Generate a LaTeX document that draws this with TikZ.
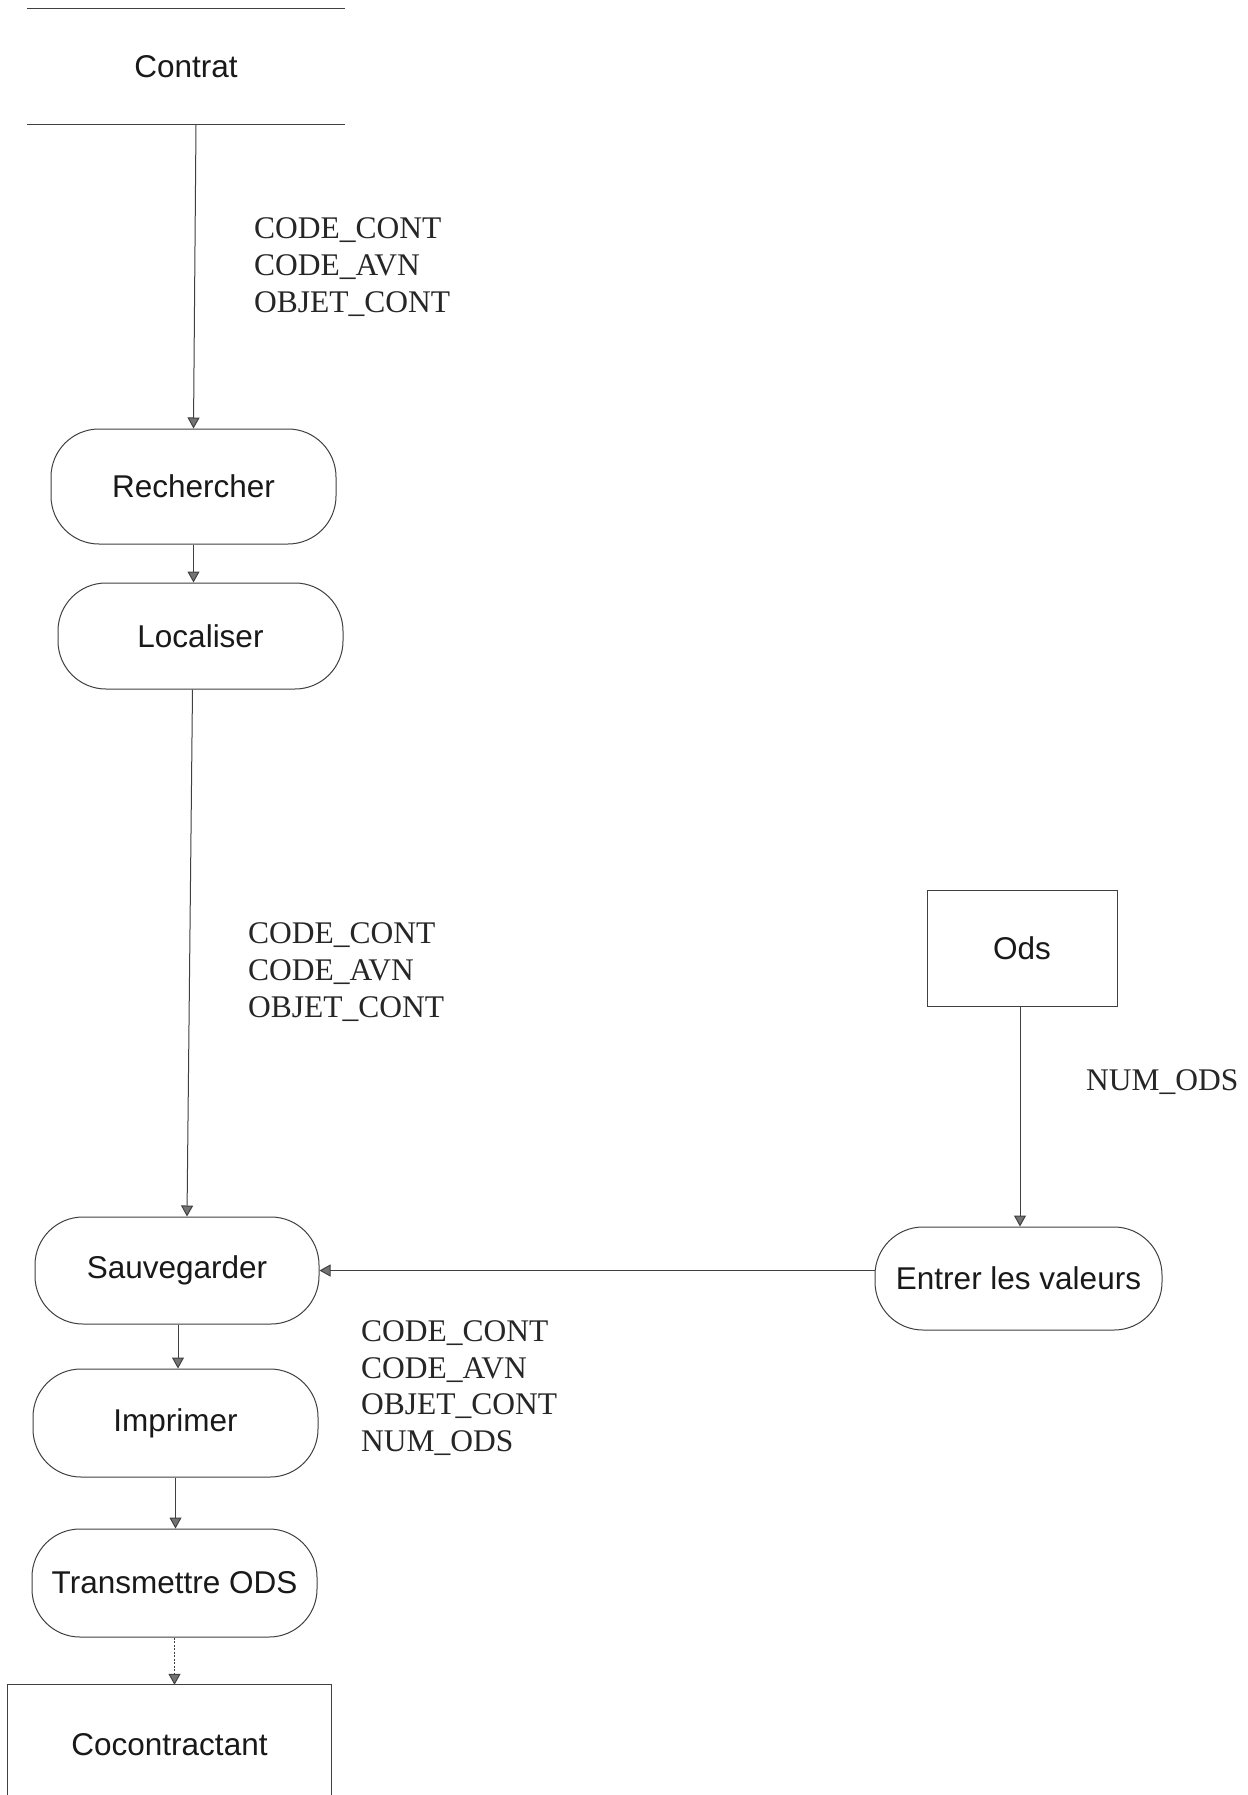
\documentclass[tikz,border=0pt]{standalone}
\usepackage{fontspec}
\setmainfont{Liberation Serif}
\setsansfont{Liberation Sans}
\usetikzlibrary{arrows.meta,calc}

\tikzset{
  flow/.style={draw=black!75, line width=1pt,
    -{Triangle[width=12pt,length=11pt,fill=black!55]}},
  proc/.style={draw=black!75, line width=1pt, rounded corners=48pt,
    inner sep=0pt, font=\sffamily\fontsize{31.5}{36}\selectfont, text=black!90},
  store/.style={inner sep=0pt, font=\sffamily\fontsize{31.5}{36}\selectfont, text=black!90},
  ent/.style={draw=black!75, line width=1pt, inner sep=0pt,
    font=\sffamily\fontsize{31.5}{36}\selectfont, text=black!90},
  data/.style={inner sep=0pt, align=left, anchor=west,
    font=\rmfamily\fontsize{31.5}{36.8}\selectfont, text=black!85},
  edge/.style={draw=black!75, line width=1pt}
}

\begin{document}
\begin{tikzpicture}[x=1pt, y=-1pt]
  \useasboundingbox[fill=white] (0,0) rectangle (1247,1795);

  % data store and external entities
  \node[store, minimum width=318pt, minimum height=115pt] (cont) at (186,66.5) {Contrat};
  \draw[edge] (cont.north west) -- (cont.north east);
  \draw[edge] (cont.south west) -- (cont.south east);

  \node[ent, minimum width=190pt, minimum height=116pt] (ods) at (1022,948) {Ods};

  \node[store, minimum width=324pt, minimum height=120pt] (coc) at (169.5,1745) {Cocontractant};
  \draw[edge] (coc.south west) -- (coc.north west) -- (coc.north east) -- (coc.south east);

  % processes
  \node[proc, minimum width=285pt, minimum height=115pt] (rech) at (193.5,486.5) {Rechercher};
  \node[proc, minimum width=285pt, minimum height=106pt] (loc) at (200.5,636) {Localiser};
  \node[proc, minimum width=284pt, minimum height=107pt] (sauv) at (177,1270.5) {Sauvegarder};
  \node[proc, minimum width=285pt, minimum height=108pt] (impr) at (175.5,1423) {Imprimer};
  \node[proc, minimum width=285pt, minimum height=108pt] (trans) at (174.5,1583) {Transmettre ODS};
  \node[proc, minimum width=287pt, minimum height=103pt] (entr) at (1018.5,1278.5) {Entrer les valeurs};

  % flows
  \draw[flow] ([xshift=10pt]cont.south) -- (rech.north);
  \draw[flow] (rech.south) -- (rech.south |- loc.north);
  \draw[flow] ([xshift=-8pt]loc.south) -- ([xshift=10pt]sauv.north);
  \draw[flow] ([xshift=1pt]sauv.south) -- ([xshift=1pt]sauv.south |- impr.north);
  \draw[flow] (impr.south) -- (impr.south |- trans.north);
  \draw[flow, dash pattern=on 2pt off 1.5pt] (trans.south) -- (trans.south |- coc.north);
  \draw[flow] ([xshift=-2pt]ods.south) -- ([xshift=-2pt]ods.south |- entr.north);
  \draw[flow] (entr.west |- sauv.east) -- (sauv.east);

  % flow labels
  \node[data] (l1) at (254,267) {CODE\_CONT\\CODE\_AVN\\OBJET\_CONT};
  \node[data] (l2) at (248,972) {CODE\_CONT\\CODE\_AVN\\OBJET\_CONT};
  \node[data] (l3) at (361,1388) {CODE\_CONT\\CODE\_AVN\\OBJET\_CONT\\NUM\_ODS};
  \node[data] (l4) at (1086,1082) {NUM\_ODS};
\end{tikzpicture}
\end{document}
